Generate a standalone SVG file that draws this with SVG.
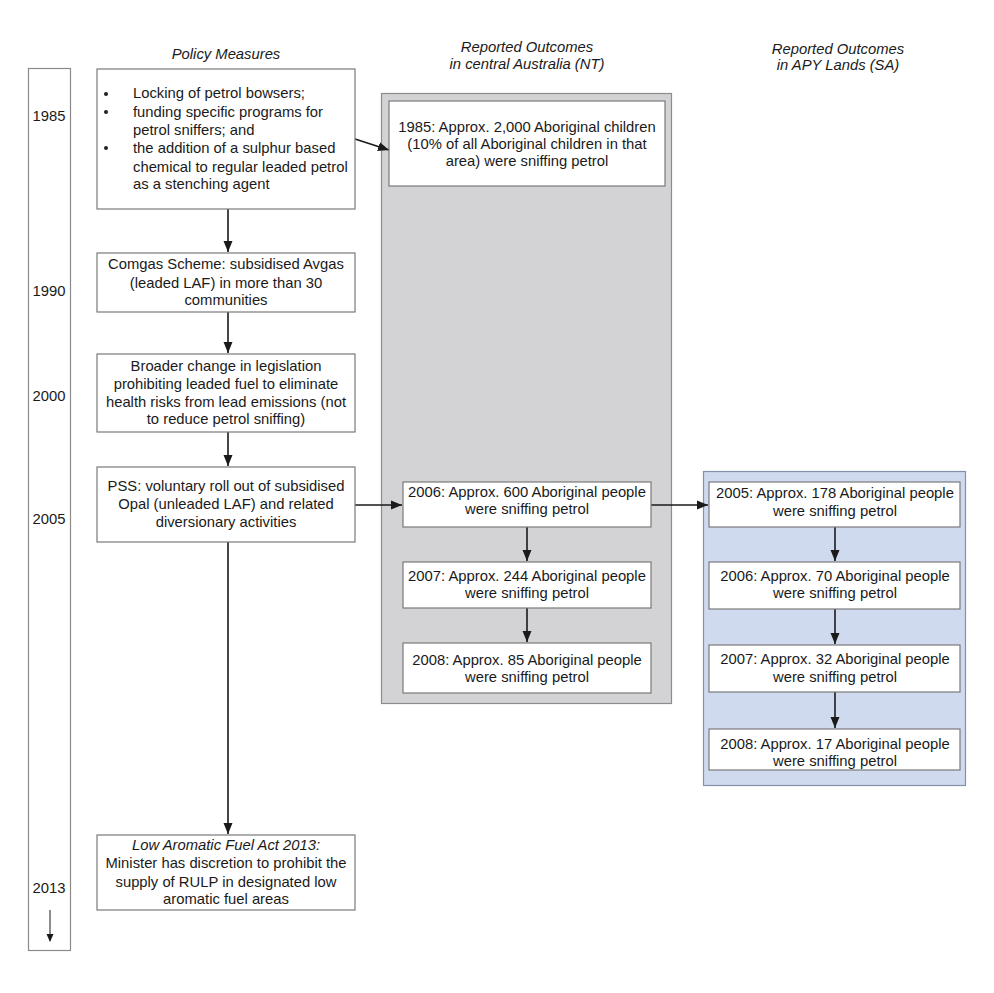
<svg xmlns="http://www.w3.org/2000/svg" width="994" height="993" viewBox="0 0 994 993">
<style>
text{font-family:"Liberation Sans",Arial,sans-serif;font-size:14.8px;fill:#1a1a1a}
.hd{font-style:italic;text-anchor:middle}
.c{text-anchor:middle}
.box{fill:#fff;stroke:#7a7a7a;stroke-width:1.2}
.ln{stroke:#1a1a1a;stroke-width:1.6;fill:none}
</style>
<defs>
<marker id="ah" markerWidth="12" markerHeight="12" refX="11" refY="5.5" orient="auto" markerUnits="userSpaceOnUse">
<path d="M0,1 L11,5.5 L0,10 Z" fill="#1a1a1a"/>
</marker>
<marker id="ahs" markerWidth="8" markerHeight="8" refX="7" refY="4" orient="auto" markerUnits="userSpaceOnUse">
<path d="M0,0.5 L8,4 L0,7.5 Z" fill="#1a1a1a"/>
</marker>
</defs>
<rect width="994" height="993" fill="#fff"/>

<g id="headers">
<text class="hd" x="226" y="59">Policy Measures</text>
<text class="hd" x="527" y="52">Reported Outcomes</text>
<text class="hd" x="527" y="69">in central Australia (NT)</text>
<text class="hd" x="838" y="54">Reported Outcomes</text>
<text class="hd" x="838" y="70">in APY Lands (SA)</text>
</g>

<g id="timeline">
<rect x="28.5" y="68.5" width="42" height="882" fill="#fff" stroke="#8a8a8a" stroke-width="1.2"/>
<text class="c" x="49" y="121">1985</text>
<text class="c" x="49" y="296">1990</text>
<text class="c" x="49" y="401">2000</text>
<text class="c" x="49" y="524">2005</text>
<text class="c" x="49" y="893">2013</text>
<line x1="50" y1="910" x2="50" y2="941" stroke="#1a1a1a" stroke-width="1" marker-end="url(#ahs)"/>
</g>

<g id="panel-nt">
<rect x="381.5" y="93.5" width="290" height="610" fill="#d3d3d5" stroke="#8c8c8c" stroke-width="1.2"/>
</g>
<g id="panel-sa">
<rect x="703.5" y="471.5" width="262" height="314" fill="#cfdaef" stroke="#8391a8" stroke-width="1.2"/>
</g>

<g id="connectors">
<line class="ln" x1="228" y1="209" x2="228" y2="252" marker-end="url(#ah)"/>
<line class="ln" x1="228" y1="312" x2="228" y2="353" marker-end="url(#ah)"/>
<line class="ln" x1="228" y1="432" x2="228" y2="466" marker-end="url(#ah)"/>
<line class="ln" x1="228" y1="542" x2="228" y2="834" marker-end="url(#ah)"/>
<line class="ln" x1="355" y1="139" x2="389" y2="150" marker-end="url(#ah)"/>
<line class="ln" x1="355" y1="505" x2="402" y2="505" marker-end="url(#ah)"/>
<line class="ln" x1="651" y1="505" x2="708" y2="505" marker-end="url(#ah)"/>
<line class="ln" x1="527" y1="527" x2="527" y2="561" marker-end="url(#ah)"/>
<line class="ln" x1="527" y1="608" x2="527" y2="642" marker-end="url(#ah)"/>
<line class="ln" x1="835" y1="527" x2="835" y2="561" marker-end="url(#ah)"/>
<line class="ln" x1="835" y1="609" x2="835" y2="644" marker-end="url(#ah)"/>
<line class="ln" x1="835" y1="692" x2="835" y2="728" marker-end="url(#ah)"/>
</g>

<g id="pm-1985">
<rect class="box" x="97" y="69" width="258" height="140"/>
<circle cx="106" cy="94" r="2" fill="#222"/>
<circle cx="106" cy="112" r="2" fill="#222"/>
<circle cx="106" cy="148" r="2" fill="#222"/>
<text x="133" y="98">Locking of petrol bowsers;</text>
<text x="133" y="117">funding specific programs for</text>
<text x="133" y="135">petrol sniffers; and</text>
<text x="133" y="153">the addition of a sulphur based</text>
<text x="133" y="172">chemical to regular leaded petrol</text>
<text x="133" y="189">as a stenching agent</text>
</g>

<g id="pm-1990">
<rect class="box" x="97" y="253" width="258" height="59"/>
<text class="c" x="226" y="269">Comgas Scheme: subsidised Avgas</text>
<text class="c" x="226" y="288">(leaded LAF) in more than 30</text>
<text class="c" x="226" y="305">communities</text>
</g>

<g id="pm-2000">
<rect class="box" x="97" y="354" width="258" height="78"/>
<text class="c" x="226" y="371">Broader change in legislation</text>
<text class="c" x="226" y="389">prohibiting leaded fuel to eliminate</text>
<text class="c" x="226" y="407">health risks from lead emissions (not</text>
<text class="c" x="226" y="424">to reduce petrol sniffing)</text>
</g>

<g id="pm-2005">
<rect class="box" x="97" y="467" width="258" height="75"/>
<text class="c" x="226" y="491">PSS: voluntary roll out of subsidised</text>
<text class="c" x="226" y="509">Opal (unleaded LAF) and related</text>
<text class="c" x="226" y="527">diversionary activities</text>
</g>

<g id="pm-2013">
<rect class="box" x="97" y="835" width="258" height="75"/>
<text class="c" x="226" y="850" font-style="italic">Low Aromatic Fuel Act 2013:</text>
<text class="c" x="226" y="868">Minister has discretion to prohibit the</text>
<text class="c" x="226" y="887">supply of RULP in designated low</text>
<text class="c" x="226" y="904">aromatic fuel areas</text>
</g>

<g id="nt-1985">
<rect class="box" x="389" y="101" width="276" height="85"/>
<text class="c" x="527" y="132">1985: Approx. 2,000 Aboriginal children</text>
<text class="c" x="527" y="149">(10% of all Aboriginal children in that</text>
<text class="c" x="527" y="166">area) were sniffing petrol</text>
</g>

<g id="nt-2006">
<rect class="box" x="403" y="482" width="248" height="45"/>
<text class="c" x="527" y="497">2006: Approx. 600 Aboriginal people</text>
<text class="c" x="527" y="514">were sniffing petrol</text>
</g>
<g id="nt-2007">
<rect class="box" x="403" y="562" width="248" height="46"/>
<text class="c" x="527" y="581">2007: Approx. 244 Aboriginal people</text>
<text class="c" x="527" y="598">were sniffing petrol</text>
</g>
<g id="nt-2008">
<rect class="box" x="403" y="643" width="248" height="50"/>
<text class="c" x="527" y="665">2008: Approx. 85 Aboriginal people</text>
<text class="c" x="527" y="682">were sniffing petrol</text>
</g>

<g id="sa-2005">
<rect class="box" x="709" y="482" width="251" height="45"/>
<text class="c" x="835" y="498">2005: Approx. 178 Aboriginal people</text>
<text class="c" x="835" y="516">were sniffing petrol</text>
</g>
<g id="sa-2006">
<rect class="box" x="709" y="562" width="251" height="47"/>
<text class="c" x="835" y="581">2006: Approx. 70 Aboriginal people</text>
<text class="c" x="835" y="598">were sniffing petrol</text>
</g>
<g id="sa-2007">
<rect class="box" x="709" y="645" width="251" height="47"/>
<text class="c" x="835" y="664">2007: Approx. 32 Aboriginal people</text>
<text class="c" x="835" y="682">were sniffing petrol</text>
</g>
<g id="sa-2008">
<rect class="box" x="709" y="729" width="251" height="41"/>
<text class="c" x="835" y="749">2008: Approx. 17 Aboriginal people</text>
<text class="c" x="835" y="766">were sniffing petrol</text>
</g>
</svg>
